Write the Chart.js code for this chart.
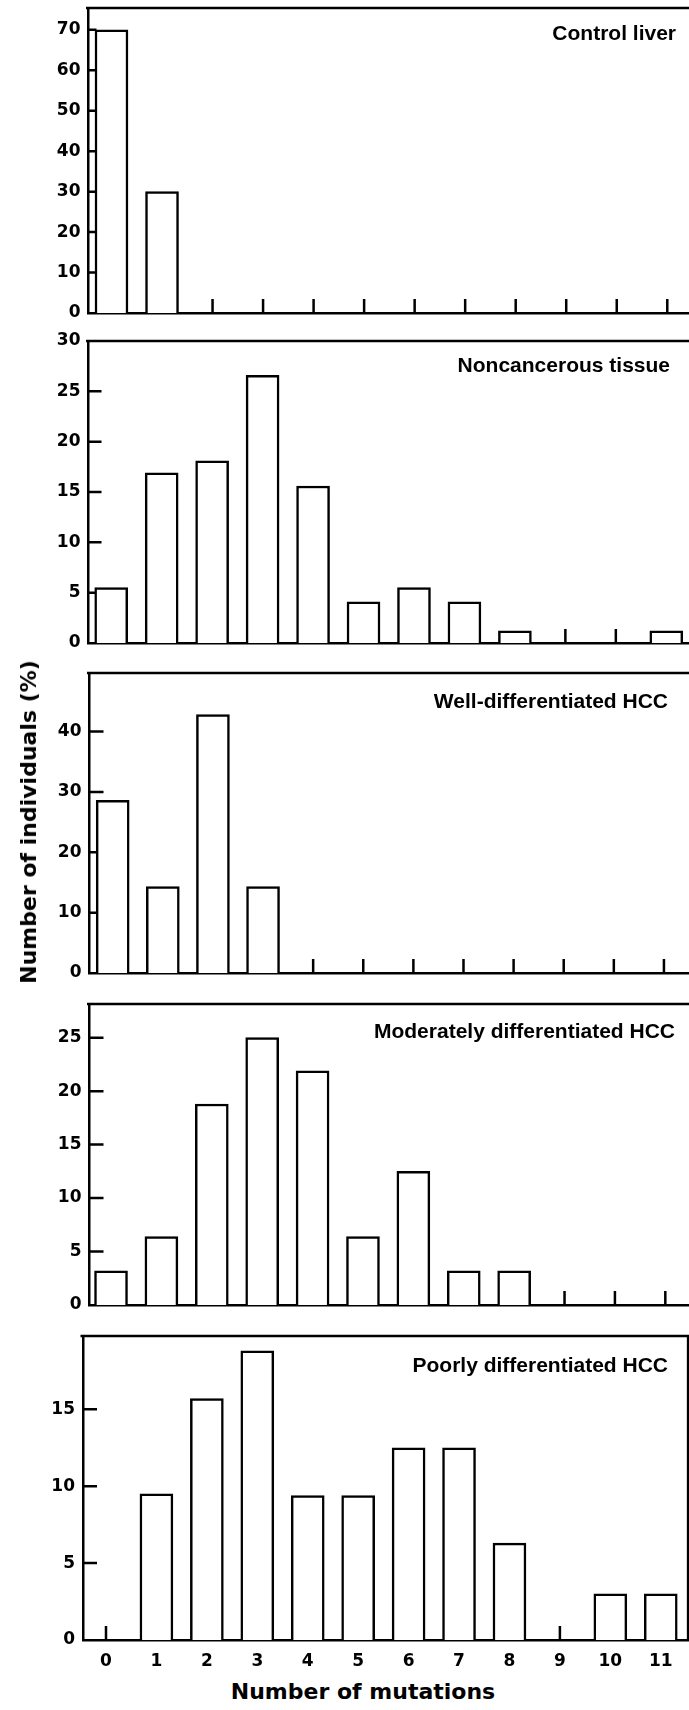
<!DOCTYPE html>
<html>
<head>
<meta charset="utf-8">
<title>Number of mutations per individual</title>
<script src="https://cdn.jsdelivr.net/npm/chart.js@4.4.1/dist/chart.umd.min.js"></script>
<style>
  html, body { margin: 0; padding: 0; background: #fff; }
  #page { position: relative; width: 689px; height: 1710px; overflow: hidden; background: #fff; }
  #page canvas { position: absolute; left: 0; }
  .axis-title {
    position: absolute;
    font: bold 22px "DejaVu Sans", sans-serif;
    color: #000;
    line-height: 1;
    white-space: nowrap;
  }
  #xTitle { left: 363px; top: 1692px; transform: translate(-50%, -50%); }
  #yTitle { left: 29px; top: 822px; transform: translate(-50%, -50%) rotate(-90deg); }
</style>
</head>
<body>
<div id="page">
  <canvas id="panel1"></canvas>
  <canvas id="panel2"></canvas>
  <canvas id="panel3"></canvas>
  <canvas id="panel4"></canvas>
  <canvas id="panel5"></canvas>
  <div class="axis-title" id="yTitle">Number of individuals (%)</div>
  <div class="axis-title" id="xTitle">Number of mutations</div>
</div>

<script>
// --- Data (percent of individuals by number of mutations) ---
const mutations = [0, 1, 2, 3, 4, 5, 6, 7, 8, 9, 10, 11];

const panelNames = [
    'Control liver',
    'Noncancerous tissue',
    'Well-differentiated HCC',
    'Moderately differentiated HCC',
    'Poorly differentiated HCC'
];

const controlLiver   = [70, 30, 0, 0, 0, 0, 0, 0, 0, 0, 0, 0];
const noncancerous   = [5.5, 16.9, 18.1, 26.6, 15.6, 4.1, 5.5, 4.1, 1.2, 0, 0, 1.2];
const wellDiff       = [28.6, 14.3, 42.8, 14.3, 0, 0, 0, 0, 0, 0, 0, 0];
const moderatelyDiff = [3.2, 6.4, 18.8, 25, 21.9, 6.4, 12.5, 3.2, 3.2, 0, 0, 0];
const poorlyDiff     = [0, 9.5, 15.7, 18.8, 9.4, 9.4, 12.5, 12.5, 6.3, 0, 3.0, 3.0];

// y tick labels for each panel
const ticksControl  = [0, 10, 20, 30, 40, 50, 60, 70];
const ticksNoncanc  = [0, 5, 10, 15, 20, 25, 30];
const ticksWell     = [0, 10, 20, 30, 40];
const ticksModerate = [0, 5, 10, 15, 20, 25];
const ticksPoorly   = [0, 5, 10, 15];

// --- Layout of each panel on the page ---
const MARGIN_TOP = 20;
const panels = [
    { id: 'panel1', name: panelNames[0], values: controlLiver,   yTicks: ticksControl,  yMax: 75.4,
      frameTop: 8.3,   zero: 313.3,  left: 88.5, right: 0, xMin: -0.455, xMax: 11.43, yLen: 8,  labelX: 676, labelDy: 31.7, xAxisH: 20, showX: false },
    { id: 'panel2', name: panelNames[1], values: noncancerous,   yTicks: ticksNoncanc,  yMax: 30,
      frameTop: 340.7, zero: 642.7,  left: 88.5, right: 0, xMin: -0.45,  xMax: 11.45, yLen: 13, labelX: 670, labelDy: 31,   xAxisH: 20, showX: false },
    { id: 'panel3', name: panelNames[2], values: wellDiff,       yTicks: ticksWell,     yMax: 49.7,
      frameTop: 673.3, zero: 973.3,  left: 89.5, right: 0, xMin: -0.463, xMax: 11.50, yLen: 14, labelX: 668, labelDy: 35,   xAxisH: 20, showX: false },
    { id: 'panel4', name: panelNames[3], values: moderatelyDiff, yTicks: ticksModerate, yMax: 28.15,
      frameTop: 1004,  zero: 1305,   left: 89.5, right: 0, xMin: -0.427, xMax: 11.47, yLen: 14, labelX: 675, labelDy: 34.3, xAxisH: 20, showX: false },
    { id: 'panel5', name: panelNames[4], values: poorlyDiff,     yTicks: ticksPoorly,   yMax: 19.77,
      frameTop: 1336,  zero: 1640,   left: 83,   right: 1, xMin: -0.456, xMax: 11.54, yLen: 14, labelX: 668, labelDy: 36.2, xAxisH: 34, showX: true }
];

const tickFont = { family: '"DejaVu Sans"', size: 17, weight: 'bold' };

// inward tick marks (only where there is no bar), top border, right border, panel label
const panelFrame = {
    id: 'panelFrame',
    beforeDatasetsDraw(chart, args, opts) {
        const { ctx, chartArea, scales } = chart;
        ctx.save();
        ctx.strokeStyle = '#000';
        ctx.lineWidth = 2.5;
        ctx.beginPath();
        mutations.forEach((m, i) => {
            if (opts.values[i] > 0) return;
            const px = scales.x.getPixelForValue(m);
            ctx.moveTo(px, chartArea.bottom);
            ctx.lineTo(px, chartArea.bottom - 14);
        });
        scales.y.ticks.forEach(t => {
            if (t.value <= 0 || t.value >= scales.y.max) return;
            const py = scales.y.getPixelForValue(t.value);
            ctx.moveTo(chartArea.left, py);
            ctx.lineTo(chartArea.left + opts.yLen, py);
        });
        ctx.stroke();
        ctx.restore();
    },
    afterDraw(chart, args, opts) {
        const { ctx, chartArea } = chart;
        ctx.save();
        ctx.strokeStyle = '#000';
        ctx.lineWidth = 2.3;
        ctx.beginPath();
        ctx.moveTo(chartArea.left - 2.5, chartArea.top);
        ctx.lineTo(chartArea.right, chartArea.top);
        if (opts.rightBorder) {
            ctx.lineTo(chartArea.right, chartArea.bottom + 1);
        }
        ctx.stroke();

        ctx.fillStyle = '#000';
        ctx.font = 'bold 21px "Liberation Sans", Arial, sans-serif';
        ctx.textAlign = 'right';
        ctx.textBaseline = 'alphabetic';
        ctx.fillText(opts.label, opts.labelX, chartArea.top + opts.labelDy);
        ctx.restore();
    }
};

panels.forEach(p => {
    const canvas = document.getElementById(p.id);
    const h = Math.round(p.zero - p.frameTop + MARGIN_TOP + p.xAxisH);
    canvas.width = 689;
    canvas.height = h;
    canvas.style.top = (p.frameTop - MARGIN_TOP) + 'px';

    new Chart(canvas, {
        type: 'bar',
        data: {
            datasets: [{
                data: mutations.map((m, i) => ({ x: m, y: p.values[i] })),
                backgroundColor: '#ffffff',
                borderColor: '#000000',
                borderWidth: 2.5,
                borderSkipped: 'start',
                barThickness: 33
            }]
        },
        plugins: [panelFrame],
        options: {
            responsive: false,
            devicePixelRatio: 1,
            animation: false,
            events: [],
            layout: { padding: { top: MARGIN_TOP, left: 0, right: p.right, bottom: 0 } },
            plugins: {
                legend: { display: false },
                tooltip: { enabled: false },
                panelFrame: {
                    label: p.name,
                    values: p.values,
                    labelX: p.labelX,
                    labelDy: p.labelDy,
                    yLen: p.yLen,
                    rightBorder: p.right > 0
                }
            },
            scales: {
                x: {
                    type: 'linear',
                    offset: false,
                    min: p.xMin,
                    max: p.xMax,
                    grid: { display: false, drawTicks: false },
                    border: { display: true, color: '#000', width: 2.5 },
                    afterBuildTicks: s => { s.ticks = mutations.map(v => ({ value: v })); },
                    afterFit: s => { s.height = p.xAxisH; },
                    ticks: {
                        display: p.showX,
                        autoSkip: false,
                        maxRotation: 0,
                        padding: 11,
                        color: '#000',
                        font: tickFont
                    }
                },
                y: {
                    min: 0,
                    max: p.yMax,
                    grid: { display: false, drawTicks: false },
                    border: { display: true, color: '#000', width: 2.5 },
                    afterBuildTicks: s => { s.ticks = p.yTicks.map(v => ({ value: v })); },
                    afterFit: s => { s.width = p.left; },
                    ticks: {
                        padding: 8,
                        color: '#000',
                        font: tickFont
                    }
                }
            }
        }
    });
});
</script>
</body>
</html>
